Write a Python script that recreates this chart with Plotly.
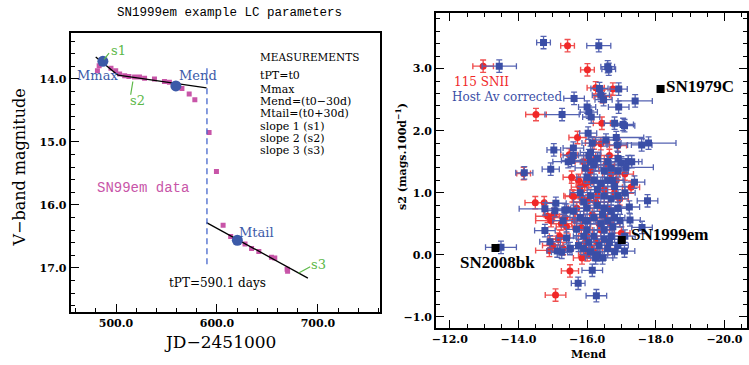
import plotly.graph_objects as go

# ---------------- Left panel: SN1999em light curve ----------------
lc_jd = [481.6, 483.3, 495.0, 499.7, 503.6, 508.6, 512.8, 518.4, 523.3, 528.3,
         538.1, 548.0, 552.9, 565.3, 572.5, 578.1, 592.2, 599.5, 606.1, 613.6,
         627.8, 634.3, 641.5, 654.0, 657.3, 669.5, 670.0]
lc_v = [13.87, 13.79, 13.83, 13.87, 13.92, 13.95, 13.96, 13.97, 13.97, 13.99,
        14.00, 14.04, 14.05, 14.15, 14.24, 14.33, 14.85, 15.47, 16.32, 16.50,
        16.62, 16.69, 16.74, 16.83, 16.84, 17.02, 17.05]

key_names = ["Mmax", "Mend", "Mtail"]
key_jd = [487.0, 559.3, 620.2]
key_v = [13.72, 14.11, 16.56]

s1_x = [479.9, 502.0]
s1_y = [13.65, 13.94]
s2_x = [502.0, 589.7]
s2_y = [13.94, 14.14]
s3_x = [589.7, 690.1]
s3_y = [16.28, 17.16]

tPT = 590.1
tPT_y = [13.83, 17.0]

measurements = ["MEASUREMENTS", "tPT=t0", "Mmax", "Mend=(t0\u221230d)", "Mtail=(t0+30d)",
                "slope 1 (s1)", "slope 2 (s2)", "slope 3 (s3)"]

# ---------------- Right panel: s2 vs Mend ----------------
red_mend = [-12.97, -15.43, -16.01, -16.25, -16.75, -16.45, -14.51, -16.43, -15.72, -16.20,
            -16.40, -15.48, -16.25, -14.15, -16.55, -16.70, -16.90, -15.79, -15.93, -16.05,
            -15.61, -15.85, -16.03, -14.49, -14.75, -15.03, -14.95, -15.57, -15.64, -15.83,
            -15.16, -14.90, -15.00, -15.30, -15.50, -15.08, -16.00, -16.10, -16.20, -16.30,
            -16.40, -16.50, -16.60, -16.15, -17.28, -17.10, -16.80, -16.95, -16.30, -16.10,
            -15.90, -15.70, -16.00, -15.85, -16.60, -17.00, -16.65, -15.20, -15.40, -16.85,
            -14.85, -15.55, -15.75, -16.35, -16.50, -15.95, -16.70, -16.25, -15.35, -15.25]
red_s2 = [3.04, 3.37, 2.98, 2.69, 2.67, 2.55, 2.26, 2.12, 1.89, 1.80,
          1.79, 1.61, 1.55, 1.31, 1.45, 1.30, 1.76, 1.09, 1.14, 1.18,
          0.94, 0.92, 0.87, 0.84, 0.84, 0.65, 0.55, 0.95, 0.56, 0.44,
          0.25, 0.07, 0.15, 0.10, -0.26, -0.65, 0.30, 0.10, 0.05, 0.20,
          0.40, 0.60, 0.75, 0.65, 1.09, 1.30, 1.00, 0.90, 0.95, 1.35,
          1.50, 0.75, 0.00, -0.05, 0.10, 0.35, 1.60, 0.30, 0.45, 1.20,
          0.62, 1.25, 1.20, 0.50, 1.05, 0.20, 0.50, 0.85, 0.60, 0.50]
red_xerr = [0.30, 0.20, 0.20, 0.25, 0.25, 0.25, 0.30, 0.25, 0.25, 0.25,
            0.25, 0.25, 0.25, 0.20, 0.25, 0.25, 0.25, 0.25, 0.25, 0.25,
            0.25, 0.25, 0.25, 0.30, 0.30, 0.30, 0.45, 0.25, 0.25, 0.25,
            0.30, 0.40, 0.30, 0.30, 0.25, 0.30, 0.25, 0.25, 0.25, 0.25,
            0.25, 0.25, 0.25, 0.25, 0.25, 0.25, 0.25, 0.25, 0.25, 0.25,
            0.25, 0.25, 0.25, 0.25, 0.25, 0.25, 0.25, 0.30, 0.30, 0.25,
            0.35, 0.25, 0.25, 0.25, 0.25, 0.25, 0.25, 0.25, 0.30, 0.30]

blue_mend = [-14.73, -16.34, -13.44, -16.63, -16.60, -16.36, -16.92, -15.62, -16.40, -16.48,
             -17.40, -16.92, -15.27, -16.00, -16.05, -16.12, -16.80, -17.09, -17.05, -16.03,
             -16.85, -16.88, -17.59, -17.79, -15.03, -15.60, -16.10, -16.05, -15.45, -15.55,
             -14.17, -14.94, -16.90, -17.00, -17.20, -17.30, -17.13, -16.90, -15.60, -15.95,
             -16.10, -16.20, -16.30, -16.60, -16.70, -16.50, -16.00, -16.20, -16.40, -16.60,
             -16.80, -17.38, -17.10, -16.90, -16.70, -16.50, -16.30, -16.10, -15.90, -16.00,
             -16.30, -16.50, -16.70, -16.90, -17.23, -17.76, -17.25, -16.96, -17.60, -16.80,
             -16.60, -16.40, -16.20, -16.00, -15.80, -15.60, -15.40, -15.09, -14.77, -15.06,
             -15.35, -14.77, -14.92, -15.13, -15.26, -15.40, -15.69, -15.50, -15.90, -16.05,
             -16.20, -16.35, -16.50, -16.70, -16.90, -17.09, -16.80, -16.60, -16.30, -16.10,
             -15.90, -16.25, -16.45, -13.49, -16.15, -15.74, -16.27, -16.00, -16.50, -16.75,
             -15.75, -17.10, -16.15, -16.55, -16.75, -15.80, -16.45, -15.95, -16.65, -15.30]
blue_s2 = [3.42, 3.37, 3.04, 2.99, 3.03, 2.68, 2.67, 2.52, 2.57, 2.50,
           2.48, 2.38, 2.26, 2.38, 2.30, 2.22, 2.12, 2.08, 2.10, 1.96,
           1.89, 1.77, 1.77, 1.80, 1.69, 1.72, 1.65, 1.60, 1.50, 1.52,
           1.32, 1.38, 1.55, 1.48, 1.50, 1.50, 1.41, 1.35, 1.60, 1.40,
           1.50, 1.45, 1.55, 1.50, 1.40, 1.35, 1.25, 1.20, 1.15, 1.20,
           1.10, 1.17, 1.00, 0.95, 0.90, 0.95, 1.05, 0.95, 0.85, 0.75,
           0.80, 0.75, 0.70, 0.75, 0.77, 0.87, 0.56, 0.55, 0.44, 0.60,
           0.55, 0.50, 0.60, 0.55, 0.60, 0.70, 0.72, 0.83, 0.74, 0.71,
           0.72, 0.39, 0.21, 0.06, 0.04, 0.27, 0.41, 0.10, 0.30, 0.20,
           0.30, 0.15, 0.25, 0.30, 0.15, 0.06, 0.05, 0.10, 0.00, 0.05,
           0.10, -0.05, -0.05, 0.12, -0.25, -0.46, -0.66, 0.40, 0.40, 0.45,
           0.15, 0.30, 1.80, 1.85, 1.20, 1.00, 0.65, 0.55, 0.20, 0.55]
blue_xerr = [0.20, 0.35, 0.50, 0.20, 0.20, 0.25, 0.25, 0.30, 0.25, 0.25,
             0.50, 0.30, 0.50, 0.25, 0.25, 0.25, 0.30, 0.30, 0.30, 0.25,
             0.80, 0.30, 0.30, 0.80, 0.20, 0.30, 0.30, 0.30, 0.45, 0.30,
             0.25, 0.25, 0.30, 0.30, 0.30, 0.30, 0.80, 0.30, 0.30, 0.30,
             0.30, 0.30, 0.30, 0.30, 0.30, 0.30, 0.30, 0.30, 0.30, 0.30,
             0.30, 0.30, 0.30, 0.30, 0.30, 0.30, 0.30, 0.30, 0.30, 0.30,
             0.30, 0.30, 0.30, 0.30, 0.30, 0.30, 0.30, 0.30, 0.30, 0.30,
             0.30, 0.30, 0.30, 0.30, 0.30, 0.30, 0.30, 0.30, 0.75, 0.30,
             0.30, 0.30, 0.30, 0.30, 0.30, 0.30, 0.30, 0.30, 0.30, 0.30,
             0.30, 0.30, 0.30, 0.30, 0.30, 0.30, 0.30, 0.30, 0.30, 0.30,
             0.30, 0.30, 0.30, 0.45, 0.30, 0.20, 0.30, 0.30, 0.30, 0.30,
             0.30, 0.30, 0.30, 0.30, 0.30, 0.30, 0.30, 0.30, 0.30, 0.30]
s2_err = 0.10

special_names = ["SN1979C", "SN1999em", "SN2008bk"]
special_mend = [-18.14, -17.01, -13.33]
special_s2 = [2.67, 0.24, 0.11]

# ---------------- Styling ----------------
SERIF = "DejaVu Serif"
MONO = "Liberation Mono"
MAGENTA = "#c855a8"
BLUE_L = "#3c5aa8"
GREEN = "#5cb847"
RED = "#f02828"
BLUE = "#3a4ea6"

fig = go.Figure()

# left panel
fig.add_trace(go.Scatter(x=lc_jd, y=lc_v, mode="markers", xaxis="x", yaxis="y",
                         marker=dict(symbol="square", size=5, color=MAGENTA)))
for lx, ly in [(s1_x, s1_y), (s2_x, s2_y), (s3_x, s3_y)]:
    fig.add_trace(go.Scatter(x=lx, y=ly, mode="lines", xaxis="x", yaxis="y",
                             line=dict(color="black", width=1.3)))
fig.add_trace(go.Scatter(x=[tPT, tPT], y=tPT_y, mode="lines", xaxis="x", yaxis="y",
                         line=dict(color="#4466cc", width=1.3, dash="6px,4px")))
fig.add_trace(go.Scatter(x=key_jd, y=key_v, mode="markers", xaxis="x", yaxis="y",
                         marker=dict(symbol="circle", size=11, color=BLUE_L)))

# right panel
fig.add_trace(go.Scatter(x=red_mend, y=red_s2, mode="markers", xaxis="x2", yaxis="y2",
                         marker=dict(symbol="circle", size=7, color=RED),
                         error_x=dict(type="data", array=red_xerr, color="#f05050", thickness=1.4, width=3),
                         error_y=dict(type="constant", value=s2_err, color="#f05050", thickness=1.4, width=3)))
fig.add_trace(go.Scatter(x=blue_mend, y=blue_s2, mode="markers", xaxis="x2", yaxis="y2",
                         marker=dict(symbol="square", size=7, color=BLUE),
                         error_x=dict(type="data", array=blue_xerr, color="#5563b2", thickness=1.3, width=3),
                         error_y=dict(type="constant", value=s2_err, color="#5563b2", thickness=1.3, width=3)))
fig.add_trace(go.Scatter(x=special_mend, y=special_s2, mode="markers", xaxis="x2", yaxis="y2",
                         marker=dict(symbol="square", size=8, color="black")))

axis_common = dict(showgrid=False, zeroline=False, showline=True, linecolor="black", linewidth=2,
                   ticks="inside", ticklen=8, tickwidth=1.3, tickcolor="black",
                   tickformat=".1f",
                   tickfont=dict(family=SERIF, size=11, color="black", weight="bold"))

fig.update_layout(
    width=749, height=365, margin=dict(l=0, r=0, t=0, b=0),
    paper_bgcolor="white", plot_bgcolor="white", showlegend=False,
    xaxis=dict(domain=[0.0895, 0.506], range=[455, 762], anchor="y", dtick=100, tick0=0,
               mirror=True, minor=dict(dtick=20, ticklen=4, ticks="inside", tickcolor="black", tickwidth=1.2),
               **axis_common),
    yaxis=dict(domain=[0.145, 0.9096], range=[17.7, 13.27], anchor="x", dtick=1, tick0=0,
               mirror=True, minor=dict(dtick=0.2, ticklen=4, ticks="inside", tickcolor="black", tickwidth=1.2),
               **axis_common),
    xaxis2=dict(domain=[0.5808, 0.9987], range=[-11.6, -20.66], anchor="y2", dtick=2, tick0=0,
                mirror="ticks", minor=dict(dtick=0.5, ticklen=4, ticks="inside", tickcolor="black", tickwidth=1.2),
                **axis_common),
    yaxis2=dict(domain=[0.1014, 0.965], range=[-1.18, 3.9], anchor="x2", dtick=1, tick0=0,
                mirror="ticks", minor=dict(dtick=0.2, ticklen=4, ticks="inside", tickcolor="black", tickwidth=1.2),
                **axis_common),
)

ann = []
def A(text, x, y, xref="x", yref="y", size=12, color="black", family=SERIF, xanchor="center",
      yanchor="middle", angle=0, weight="normal"):
    ann.append(dict(text=text, x=x, y=y, xref=xref, yref=yref, showarrow=False,
                    xanchor=xanchor, yanchor=yanchor, textangle=angle,
                    font=dict(family=family, size=size, color=color, weight=weight)))

# titles
A("SN1999em example LC parameters", 0.303, 0.964, "paper", "paper", size=12.5, family=MONO)
A("V\u2212band magnitude", 0.021, 0.54, "paper", "paper", size=16, angle=-90)
A("JD\u22122451000", 0.29, 0.064, "paper", "paper", size=17)
A("Mend", 0.785, 0.030, "paper", "paper", size=11, weight="bold")
A("s2 (mags.100d<sup>\u22121</sup>)", 0.535, 0.57, "paper", "paper", size=11, angle=-90, weight="bold")

# left labels
A("Mmax", 459.6, 13.95, size=13, color=BLUE_L, xanchor="left")
A("Mend", 560.0, 13.95, size=13, color=BLUE_L, xanchor="left")
A("Mtail", 620.2, 16.44, size=13, color=BLUE_L, xanchor="left")
A("s1", 493.1, 13.54, size=13, color=GREEN, xanchor="left")
A("s2", 521.7, 14.34, size=13, color=GREEN)
A("s3", 690.8, 16.94, size=13, color=GREEN, xanchor="left")
A("tPT=590.1 days", 550.2, 17.24, size=12, xanchor="left")
A("SN99em data", 479.0, 15.73, size=14, color=MAGENTA, family=MONO, xanchor="left")
meas_y = [13.65, 13.95, 14.16, 14.35, 14.54, 14.76, 14.94, 15.14]
for t, yy in zip(measurements, meas_y):
    A(t, 640.2, yy, size=11 if t != "MEASUREMENTS" else 10.5, xanchor="left")

# right labels
A("115 SNII", -12.06, 2.78, "x2", "y2", size=12, color=RED, xanchor="left")
A("Host Av corrected", -12.0, 2.55, "x2", "y2", size=12, color=BLUE, xanchor="left")
A("SN1979C", -18.24, 2.71, "x2", "y2", size=17, family="Liberation Serif", weight="bold", xanchor="left")
A("SN1999em", -17.23, 0.32, "x2", "y2", size=17, family="Liberation Serif", weight="bold", xanchor="left")
A("SN2008bk", -12.23, -0.13, "x2", "y2", size=17, family="Liberation Serif", weight="bold", xanchor="left")

fig.update_layout(annotations=ann)

# green leader lines
shapes = []
for (x0, y0, x1, y1) in [(488.2, 13.69, 493.1, 13.59), (516.7, 14.04, 514.5, 14.25), (681.0, 17.08, 692.4, 16.98)]:
    shapes.append(dict(type="line", xref="x", yref="y", x0=x0, y0=y0, x1=x1, y1=y1,
                       line=dict(color=GREEN, width=1.2)))
fig.update_layout(shapes=shapes)

fig.write_html("out.html", config={"displayModeBar": False},
               post_script="document.body.style.margin='0';document.body.style.overflow='hidden';")
